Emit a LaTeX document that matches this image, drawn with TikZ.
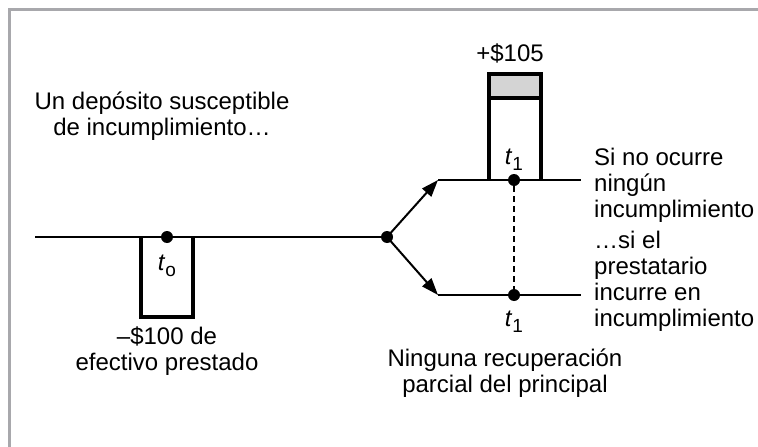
\documentclass[tikz,border=0pt]{standalone}
\usepackage{fontspec}
\setmainfont{Liberation Sans}
\usetikzlibrary{arrows.meta}
\definecolor{framegray}{RGB}{168,168,172}
\definecolor{bandgray}{RGB}{212,212,212}
\newcommand{\tsub}[1]{\textit{t}\raisebox{-0.45ex}{\fontsize{19}{19}\selectfont #1}}
\tikzset{
  lbl/.style={font=\fontsize{24}{26}\selectfont, align=center, inner sep=0pt},
  flow/.style={line width=2pt},
  cashbox/.style={line width=4.2pt},
  dot/.style={circle, fill, inner sep=0pt, minimum size=12pt},
  branch/.style={flow, -{Triangle[length=17pt,width=12pt]}}
}
\begin{document}
\begin{tikzpicture}[x=1pt, y=-1pt]
    \useasboundingbox (0,0) rectangle (758,447);
    \draw[framegray, line width=3pt] (758,9) -- (9,9) -- (9,447);

    \coordinate (start) at (35,237);
    \coordinate (upcorner) at (438,180);
    \coordinate (upend) at (581,180);
    \coordinate (lowcorner) at (438,295);
    \coordinate (lowend) at (581,295);

    \draw[cashbox] (141,237) -- (141,317) -- (193,317) -- (193,237);
    \fill[bandgray] (489,74) rectangle (541,98);
    \draw[cashbox] (489,180) -- (489,74) -- (541,74) -- (541,180);
    \draw[cashbox] (489,98) -- (541,98);

    \node[dot] (t0) at (167,237) {};
    \node[dot] (split) at (387,237) {};
    \node[dot] (upt1) at (514,180) {};
    \node[dot] (lowt1) at (514,295) {};

    \draw[flow] (start) -- (split.center);
    \draw[branch] (split.center) -- (upcorner);
    \draw[branch] (split.center) -- (lowcorner);
    \draw[flow] (upcorner) -- (upend);
    \draw[flow] (lowcorner) -- (lowend);
    \draw[line width=1.5pt, dash pattern=on 6pt off 4pt] (upt1) -- (lowt1);

    \node[lbl] (lt0) at (167,266) {\tsub{o}};
    \node[lbl] (lupt1) at (514,160) {\tsub{1}};
    \node[lbl] (llowt1) at (514,322) {\tsub{1}};

    \node[lbl] (deposito) at (162,116) {Un depósito susceptible\\de incumplimiento…};
    \node[lbl] (prestado) at (167,351) {–\$100 de\\efectivo prestado};
    \node[lbl] (pago) at (510,53) {+\$105};
    \node[lbl, align=left, anchor=west] (nodefault) at (594,185) {Si no ocurre\\ningún\\incumplimiento};
    \node[lbl, align=left, anchor=west] (sidefault) at (594,281) {…si el\\prestatario\\incurre en\\incumplimiento};
    \node[lbl] (ninguna) at (505,373) {Ninguna recuperación\\parcial del principal};

  \end{tikzpicture}
\end{document}
